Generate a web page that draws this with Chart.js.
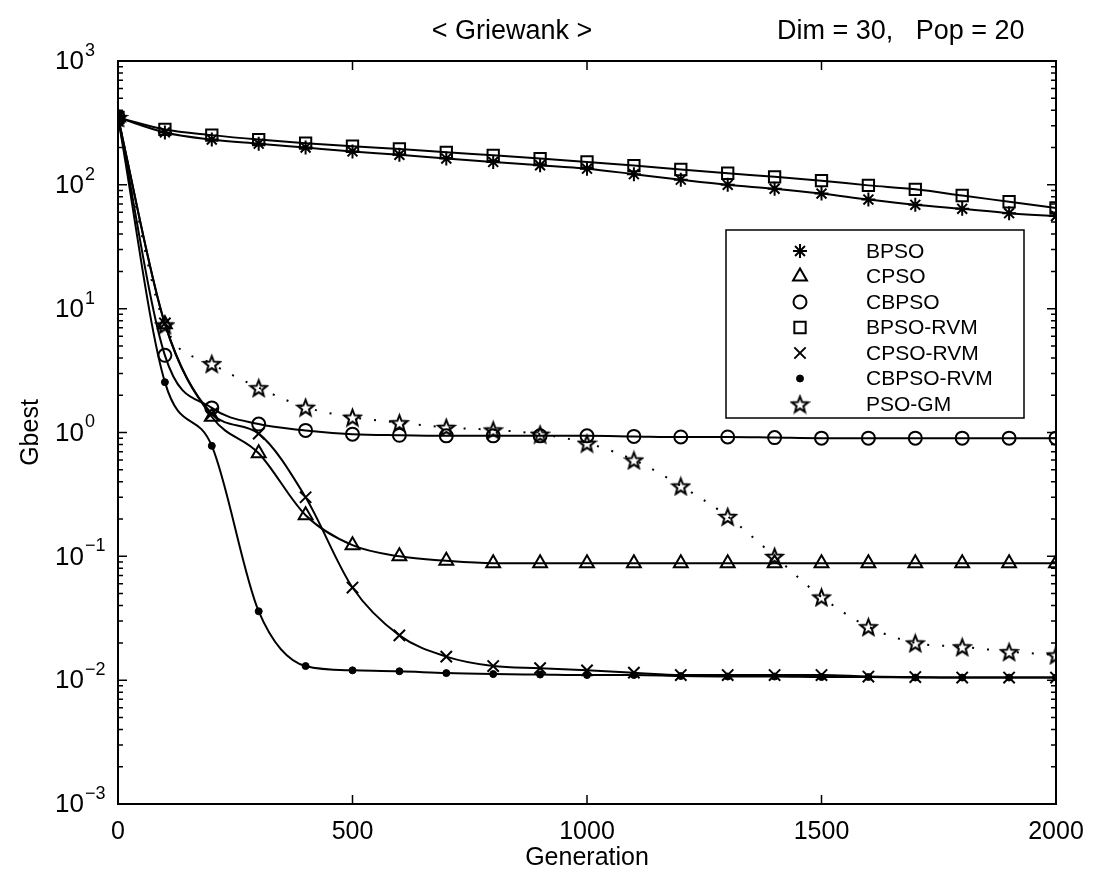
<!DOCTYPE html>
<html>
<head>
<meta charset="utf-8">
<title>Griewank</title>
<script src="https://cdn.jsdelivr.net/npm/chart.js"></script>
<style>
  body { margin: 0; background: #fff; }
  canvas { display: block; }
</style>
</head>
<body>
<canvas id="myChart" width="1093" height="874"></canvas>
<script>
/* ===== DATA ===== */
const gens = [0, 100, 200, 300, 400, 500, 600, 700, 800, 900, 1000,
              1100, 1200, 1300, 1400, 1500, 1600, 1700, 1800, 1900, 2000];

const bpso     = [350, 265, 232, 215, 200, 186, 175, 163, 153, 144, 135, 122, 110, 100, 93, 85, 76, 69, 64, 59, 56];
const cpso     = [350, 7.5, 1.34, 0.68, 0.215, 0.123, 0.10, 0.092, 0.088, 0.088, 0.088, 0.088, 0.088, 0.088, 0.088, 0.088, 0.088, 0.088, 0.088, 0.088, 0.088];
const cbpso    = [350, 4.2, 1.58, 1.17, 1.04, 0.97, 0.95, 0.94, 0.94, 0.94, 0.94, 0.93, 0.92, 0.92, 0.91, 0.9, 0.9, 0.9, 0.9, 0.9, 0.9];
const bpsoRvm  = [350, 280, 252, 232, 217, 205, 195, 183, 173, 163, 153, 143, 133, 124, 116, 108, 99, 92, 82, 73, 65];
const cpsoRvm  = [350, 7.6, 1.42, 0.98, 0.30, 0.056, 0.023, 0.0155, 0.013, 0.0125, 0.012, 0.0115, 0.011, 0.011, 0.011, 0.011, 0.0107, 0.0106, 0.0105, 0.0105, 0.0105];
const cbpsoRvm = [350, 2.55, 0.78, 0.036, 0.013, 0.012, 0.0118, 0.0114, 0.0112, 0.0111, 0.011, 0.011, 0.0108, 0.0107, 0.0107, 0.0106, 0.0106, 0.0105, 0.0105, 0.0105, 0.0105];
const psoGm    = [350, 7.4, 3.6, 2.3, 1.6, 1.33, 1.2, 1.1, 1.05, 0.97, 0.82, 0.6, 0.37, 0.21, 0.1, 0.047, 0.027, 0.02, 0.0186, 0.017, 0.016];

const xTicks = [0, 500, 1000, 1500, 2000];
const yExps = [-3, -2, -1, 0, 1, 2, 3];

const FONT = '"Liberation Sans", Arial, Helvetica, sans-serif';

/* ===== PENTAGRAM MARKER ===== */
function makeStar(r) {
    const c = document.createElement('canvas');
    const s = Math.ceil(2 * r + 4);
    c.width = s;
    c.height = s;
    const g = c.getContext('2d');
    g.translate(s / 2, s / 2 + 1);
    g.beginPath();
    for (let i = 0; i < 10; i++) {
        const rr = i % 2 ? r * 0.42 : r;
        const a = -Math.PI / 2 + i * Math.PI / 5;
        g.lineTo(rr * Math.cos(a), rr * Math.sin(a));
    }
    g.closePath();
    g.lineWidth = 2;
    g.strokeStyle = '#000';
    g.stroke();
    return c;
}
const starImg = makeStar(8.5);

function series(label, values, style, radius, extra) {
    return Object.assign({
        label: label,
        data: gens.map((g, i) => ({ x: g, y: values[i] })),
        borderColor: '#000',
        borderWidth: 2,
        pointStyle: style,
        pointRadius: radius,
        pointBorderColor: '#000',
        pointBackgroundColor: 'rgba(0,0,0,0)',
        pointBorderWidth: 2,
        cubicInterpolationMode: 'monotone',
        fill: false,
    }, extra || {});
}

const datasets = [
    series('BPSO', bpso, 'star', 7),
    series('CPSO', cpso, 'triangle', 8),
    series('CBPSO', cbpso, 'circle', 6.5),
    series('BPSO-RVM', bpsoRvm, 'rect', 8),
    series('CPSO-RVM', cpsoRvm, 'crossRot', 8),
    series('CBPSO-RVM', cbpsoRvm, 'circle', 3.5, { pointBackgroundColor: '#000', pointBorderWidth: 1 }),
    series('PSO-GM', psoGm, starImg, 9, { borderDash: [2, 13], borderWidth: 2 }),
];

/* ===== FRAME, TICKS, LABELS, LEGEND ===== */
const matlabLook = {
    id: 'matlabLook',
    afterDraw(chart) {
        const ctx = chart.ctx;
        const a = chart.chartArea;
        const xs = chart.scales.x;
        const ys = chart.scales.y;
        ctx.save();
        ctx.strokeStyle = '#000';
        ctx.fillStyle = '#000';

        // frame
        ctx.lineWidth = 2;
        ctx.strokeRect(a.left, a.top, a.right - a.left, a.bottom - a.top);

        // x ticks, inward top and bottom
        ctx.lineWidth = 1.5;
        ctx.beginPath();
        xTicks.forEach(v => {
            const px = xs.getPixelForValue(v);
            ctx.moveTo(px, a.bottom); ctx.lineTo(px, a.bottom - 9);
            ctx.moveTo(px, a.top); ctx.lineTo(px, a.top + 9);
        });
        // y ticks, major + minor, left and right
        yExps.forEach(k => {
            for (let m = 1; m <= 9; m++) {
                const v = m * Math.pow(10, k);
                if (v > 1000) break;
                const py = ys.getPixelForValue(v);
                const len = m === 1 ? 9 : 5;
                ctx.moveTo(a.left, py); ctx.lineTo(a.left + len, py);
                ctx.moveTo(a.right, py); ctx.lineTo(a.right - len, py);
            }
        });
        ctx.stroke();

        // y tick labels 10^k
        ctx.textBaseline = 'middle';
        ctx.textAlign = 'left';
        yExps.forEach(k => {
            const py = ys.getPixelForValue(Math.pow(10, k));
            ctx.font = '26px ' + FONT;
            ctx.fillText('10', 55, py + 1);
            const w = ctx.measureText('10').width;
            ctx.font = '18px ' + FONT;
            ctx.fillText(k < 0 ? '\u2212' + (-k) : String(k), 55 + w + 1, py - 10);
        });

        // titles
        ctx.font = '27px ' + FONT;
        ctx.textAlign = 'center';
        ctx.fillText('< Griewank >', 512, 32);
        ctx.textAlign = 'left';
        ctx.fillText('Dim = 30,   Pop = 20', 777, 32);

        // legend box
        const lx = 726, ly = 230, lw = 298, lh = 188;
        ctx.fillStyle = '#fff';
        ctx.fillRect(lx, ly, lw, lh);
        ctx.lineWidth = 1.5;
        ctx.strokeRect(lx, ly, lw, lh);
        ctx.font = '21px ' + FONT;
        chart.data.datasets.forEach((ds, i) => {
            const ry = 251 + i * 25.5;
            ctx.fillStyle = ds.pointBackgroundColor;
            ctx.strokeStyle = '#000';
            ctx.lineWidth = ds.pointBorderWidth;
            Chart.helpers.drawPoint(ctx, {
                pointStyle: ds.pointStyle,
                radius: ds.pointRadius,
                borderWidth: ds.pointBorderWidth,
                rotation: 0
            }, 800, ry);
            ctx.fillStyle = '#000';
            ctx.textAlign = 'left';
            ctx.fillText(ds.label, 866, ry + 1);
        });
        ctx.restore();
    }
};

Chart.defaults.font.family = FONT;
Chart.defaults.color = '#000';

const myChart = document.getElementById('myChart').getContext('2d');

const lineChart = new Chart(myChart, {
    type: 'line',
    data: { datasets: datasets },
    options: {
        responsive: false,
        animation: false,
        layout: { padding: { left: 0, top: 61, right: 37, bottom: 0 } },
        scales: {
            x: {
                type: 'linear',
                min: 0,
                max: 2000,
                grid: { display: false, drawTicks: false },
                border: { display: false },
                ticks: {
                    stepSize: 500,
                    padding: 13,
                    font: { size: 25 },
                    color: '#000',
                    maxRotation: 0,
                    callback: (v) => String(v),
                },
                title: {
                    display: true,
                    text: 'Generation',
                    font: { size: 25 },
                    padding: { top: 0, bottom: 1 },
                },
                afterFit: (scale) => {
                    scale.height = 70;
                    scale.paddingLeft = 0;
                    scale.paddingRight = 0;
                },
            },
            y: {
                type: 'logarithmic',
                min: 0.001,
                max: 1000,
                grid: { display: false, drawTicks: false },
                border: { display: false },
                ticks: { display: false },
                title: {
                    display: true,
                    text: 'Gbest',
                    font: { size: 25 },
                    padding: { top: 16, bottom: 0 },
                },
                afterFit: (scale) => { scale.width = 118; },
            },
        },
        plugins: {
            legend: { display: false },
            tooltip: { enabled: false },
        },
    },
    plugins: [matlabLook],
});
</script>
</body>
</html>
